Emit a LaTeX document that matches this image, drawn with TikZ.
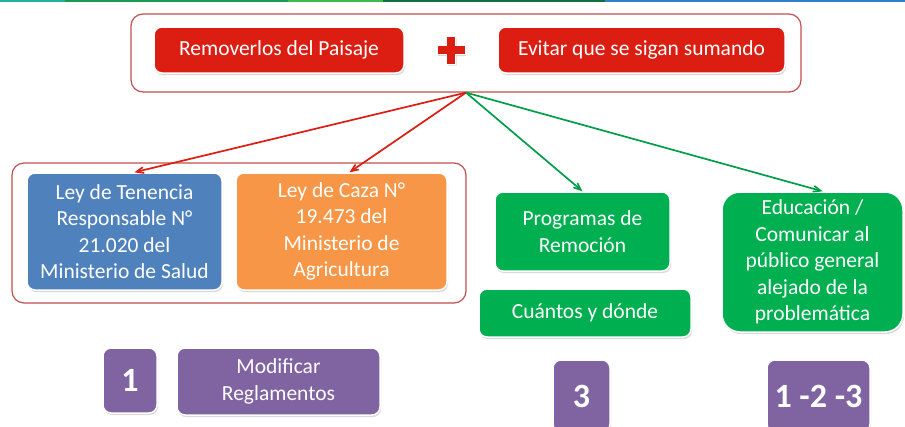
\documentclass[tikz,border=0pt]{standalone}
\usepackage{fontspec}
\setmainfont{Carlito}
\usepackage{tikz}
\usetikzlibrary{arrows,shapes,shadows}
\definecolor{rojo}{HTML}{DC1D12}
\definecolor{azul}{HTML}{4F81BD}
\definecolor{naranja}{HTML}{F79646}
\definecolor{verde}{HTML}{00B050}
\definecolor{morado}{HTML}{8064A2}
\definecolor{marco}{HTML}{C0504D}
\definecolor{franjaA}{HTML}{20B0A0}
\definecolor{franjaB}{HTML}{1A9A50}
\definecolor{franjaC}{HTML}{40B850}
\definecolor{franjaD}{HTML}{107040}
\definecolor{franjaE}{HTML}{3080C8}
\tikzstyle{caja}=[rectangle,rounded corners=8pt,draw=white,line width=1.5pt,
                text=white,align=center,inner sep=0pt,
                drop shadow={opacity=0.3,shadow xshift=1pt,shadow yshift=-2pt},
                font=\fontsize{21.5}{26.5}\selectfont]
\tikzstyle{grupo}=[rectangle,rounded corners=12pt,draw=marco,line width=1.2pt,fill=white]
\tikzstyle{num}=[caja,fill=morado,font=\fontsize{34}{40}\selectfont\bfseries]
\tikzstyle{hit}=[->,>=angle 45,line width=1.7pt]

\begin{document}
\begin{tikzpicture}[x=1pt,y=-1pt]
\useasboundingbox (0,0) rectangle (905,426);
% franja superior
\fill[franjaA] (0,0) rectangle (65,2);
\fill[franjaB] (65,0) rectangle (288,2);
\fill[franjaC] (288,0) rectangle (383,2);
\fill[franjaD] (383,0) rectangle (605,2);
\fill[franjaE] (605,0) rectangle (905,2);
% objetivo
\node[grupo,minimum width=670pt,minimum height=78pt] (meta) at (466,53) {};
\node[caja,fill=rojo,minimum width=250pt,minimum height=46pt] (remover) at (279,50) {Removerlos del Paisaje};
\node[caja,fill=rojo,minimum width=287pt,minimum height=46pt] (evitar) at (641.5,50) {Evitar que se sigan sumando};
\fill[rojo,draw=white,line width=1pt,drop shadow={opacity=0.3,shadow xshift=1pt,shadow yshift=-1.5pt}]
  (446.5,36) -- (455.5,36) -- (455.5,45.5) -- (465,45.5) -- (465,54.5) -- (455.5,54.5)
  -- (455.5,64) -- (446.5,64) -- (446.5,54.5) -- (437,54.5) -- (437,45.5) -- (446.5,45.5) -- cycle;
% leyes
\node[grupo,minimum width=454pt,minimum height=140pt] (leyes) at (239,233) {};
\node[caja,fill=azul,minimum width=195pt,minimum height=117pt] (tenencia) at (124.5,231.5)
  {Ley de Tenencia\\Responsable N°\\21.020 del\\Ministerio de Salud};
\node[caja,fill=naranja,minimum width=211pt,minimum height=117pt] (caza) at (341.5,231.5)
  {Ley de Caza N°\\19.473 del\\Ministerio de\\Agricultura};
% acciones
\node[caja,fill=verde,minimum width=175pt,minimum height=79pt] (programas) at (582.5,231.5)
  {Programas de\\Remoción};
\node[caja,fill=verde,minimum width=212pt,minimum height=48pt] (cuantos) at (585,313)
  {Cuántos y dónde};
\node[caja,fill=verde,rounded corners=18pt,minimum width=181pt,minimum height=140pt] (educacion) at (812.5,262)
  {Educación /\\Comunicar al\\público general\\alejado de la\\problemática};
% numeros
\node[num,minimum width=54pt,minimum height=65pt] (uno) at (130,380.5) {1};
\node[caja,fill=morado,minimum width=203pt,minimum height=67pt] (modificar) at (278.5,381.5)
  {Modificar\\Reglamentos};
\node[num,minimum width=57pt,minimum height=72pt] (tres) at (581.5,396) {3};
\node[num,minimum width=103pt,minimum height=72pt] (todos) at (818.5,396) {1 -2 -3};
% flechas
\draw[hit,draw=rojo] (meta.south) -- ([xshift=10pt]tenencia.north);
\draw[hit,draw=rojo] (meta.south) -- ([xshift=8pt]caza.north);
\draw[hit,draw=verde!90!black] (meta.south) -- (programas.north);
\draw[hit,draw=verde!90!black] (meta.south) -- ([xshift=10pt]educacion.north);
\end{tikzpicture}
\end{document}
